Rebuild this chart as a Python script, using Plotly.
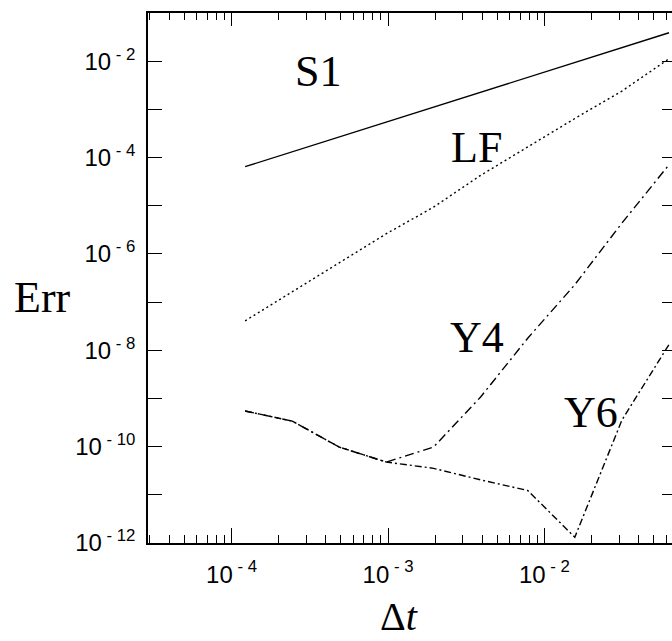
import plotly.graph_objects as go

# ---- data ----
dt = [1.2207e-4, 2.4414e-4, 4.8828e-4, 9.7656e-4, 1.9531e-3,
      3.9063e-3, 7.8125e-3, 1.5625e-2, 3.125e-2, 6.25e-2]
log_err_S1 = [-4.19, -3.88, -3.57, -3.26, -2.95, -2.64, -2.34, -2.03, -1.72, -1.41]
log_err_LF = [-7.39, -6.79, -6.19, -5.58, -5.03, -4.37, -3.78, -3.19, -2.62, -1.95]
log_err_Y4 = [-9.26, -9.47, -10.01, -10.32, -10.01, -8.97, -7.75, -6.64, -5.36, -4.15]
log_err_Y6 = [-9.26, -9.47, -10.01, -10.32, -10.45, -10.69, -10.91, -11.88, -9.45, -7.88]

NB = "\u00a0"
x_major = [1e-4, 1e-3, 1e-2]
x_major_text = ["10<sup>" + NB + "-" + NB + "4</sup>",
                "10<sup>" + NB + "-" + NB + "3</sup>",
                "10<sup>" + NB + "-" + NB + "2</sup>"]
x_minor = [m * d for d in (1e-5, 1e-4, 1e-3, 1e-2) for m in range(2, 10)]
y_label_exps = [-12, -10, -8, -6, -4, -2]
y_major = [10.0 ** e for e in y_label_exps]
y_major_text = ["10<sup>" + NB + "-" + NB + "%d</sup>" % (-e) for e in y_label_exps]
y_minor = [10.0 ** e for e in (-11, -9, -7, -5, -3)]

series_labels = ["S1", "LF", "Y4", "Y6"]
series_logs = [log_err_S1, log_err_LF, log_err_Y4, log_err_Y6]
series_dash = ["solid", "2px,3px", "9px,4px,2px,4px", "7px,3px,2px,3px"]

fig = go.Figure()
for name, logs, dash in zip(series_labels, series_logs, series_dash):
    fig.add_trace(go.Scatter(
        x=dt, y=[10.0 ** v for v in logs], mode="lines", name=name,
        line=dict(color="black", width=1.4, dash=dash), showlegend=False))

# helper trace to activate the top / right mirror axes
fig.add_trace(go.Scatter(x=[1e-3], y=[1e-6], xaxis="x2", yaxis="y2", mode="markers",
                         marker=dict(opacity=0), hoverinfo="skip", showlegend=False))

xr = [-4.534, -1.185]
yr = [-12, -1]
tickfont = dict(family="Liberation Sans, Arial, sans-serif", size=24, color="black")
serif = "Liberation Serif, Times New Roman, serif"
ymin_left = dict(tickvals=y_minor, ticks="inside", ticklen=14, tickwidth=1.3,
                 tickcolor="black", showgrid=False)
ymin_right = dict(tickvals=y_minor, ticks="inside", ticklen=10, tickwidth=1.3,
                  tickcolor="black", showgrid=False)

fig.update_layout(
    width=672, height=641,
    margin=dict(l=148, r=0, t=13, b=98),
    plot_bgcolor="white", paper_bgcolor="white",
    showlegend=False,
    xaxis=dict(type="log", range=xr, showline=True, linecolor="black", linewidth=1.5,
               ticks="inside", ticklen=15, tickwidth=1.3, tickcolor="black",
               tickvals=x_major, ticktext=x_major_text, tickfont=tickfont,
               ticklabelstandoff=9,
               showgrid=False, zeroline=False, mirror=False,
               minor=dict(tickvals=x_minor, ticks="inside", ticklen=8, tickwidth=1.3,
                          tickcolor="black", showgrid=False)),
    xaxis2=dict(type="log", range=xr, overlaying="x", side="top", showline=True,
                linecolor="black", linewidth=1.5, ticks="inside", ticklen=13, tickwidth=1.3,
                tickcolor="black", tickvals=x_major, showticklabels=False,
                showgrid=False, zeroline=False,
                minor=dict(tickvals=x_minor, ticks="inside", ticklen=7, tickwidth=1.3,
                           tickcolor="black", showgrid=False)),
    yaxis=dict(type="log", range=yr, showline=True, linecolor="black", linewidth=1.5,
               ticks="inside", ticklen=14, tickwidth=1.3, tickcolor="black",
               tickvals=y_major, ticktext=y_major_text, tickfont=tickfont,
               ticklabelstandoff=6, minor=ymin_left,
               showgrid=False, zeroline=False, mirror=False),
    yaxis2=dict(type="log", range=yr, overlaying="y", side="right", showline=False,
                ticks="inside", ticklen=10, tickwidth=1.3, tickcolor="black",
                tickvals=y_major, showticklabels=False, minor=ymin_right,
                showgrid=False, zeroline=False),
)

# series labels (data coordinates, log10 units)
label_pos = {"S1": (-3.447, -2.222), "LF": (-2.437, -3.791),
             "Y4": (-2.430, -7.727), "Y6": (-1.702, -9.285)}
for name in series_labels:
    lx, ly = label_pos[name]
    fig.add_annotation(x=lx, y=ly, xref="x", yref="y", text=name, showarrow=False,
                       xanchor="center", yanchor="middle",
                       font=dict(family=serif, size=44, color="black"))

fig.add_annotation(x=-0.2013, y=0.4623, xref="paper", yref="paper", text="Err",
                   showarrow=False, xanchor="center", yanchor="middle",
                   font=dict(family=serif, size=44, color="black"))
fig.add_annotation(x=0.479, y=-0.139, xref="paper", yref="paper", text="Δ<i>t</i>",
                   showarrow=False, xanchor="center", yanchor="middle",
                   font=dict(family=serif, size=40, color="black"))

fig.write_html("out.html", config={"displayModeBar": False},
               post_script="document.body.style.margin='0px';"
                           "document.body.style.overflow='hidden';")
